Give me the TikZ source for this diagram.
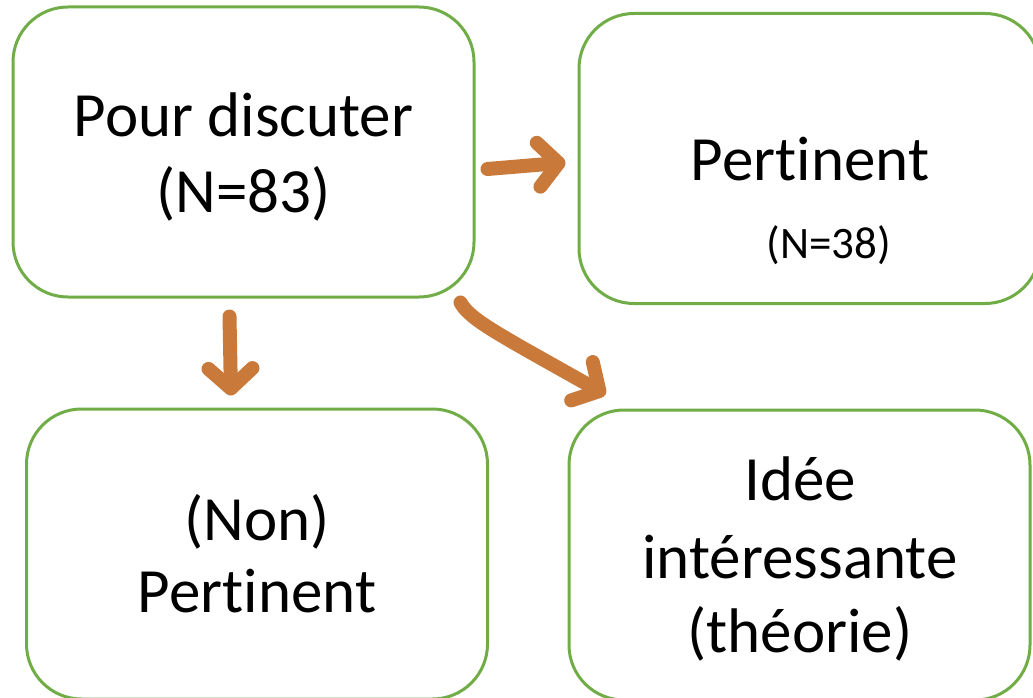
\documentclass[tikz,border=0pt]{standalone}
\usepackage{fontspec}
\setmainfont[Ligatures=NoCommon]{Carlito}
\usetikzlibrary{arrows.meta,calc}
\definecolor{boxgreen}{HTML}{70AD47}
\definecolor{brush}{HTML}{C9793A}
\tikzset{
  box/.style={draw=boxgreen, line width=3pt, rounded corners=55pt, minimum width=461pt, minimum height=290pt, inner sep=0pt},
  big/.style={font=\fontsize{63}{75}\selectfont, align=center, inner sep=0pt},
  small/.style={font=\fontsize{45}{54}\selectfont, inner sep=0pt},
  brusharrow/.style={draw=brush, line width=14pt, line cap=round, line join=round,
    -{Straight Barb[round, length=20pt, width=44pt, line width=14pt]}}
}
\begin{document}
\begin{tikzpicture}[x=1pt,y=-1pt]
\useasboundingbox (0,0) rectangle (1033,698);
\begin{scope}
\clip (0,0) rectangle (1033,698);
\node[box] (a) at (243.5,152) {};
\node[box] (b) at (809.5,158.5) {};
\node[box] (c) at (257,554) {};
\node[box] (d) at (799.5,555) {};
\end{scope}
\node[big, anchor=base] (ta1) at (243.5,137) {Pour discuter};
\node[big, anchor=base] (ta2) at (243.5,212) {(N=83)};
\node[big, anchor=base] (tb1) at (810,180) {Pertinent};
\node[small, anchor=base] (tb2) at (829,258) {(N=38)};
\node[big, anchor=base] (tc1) at (257,540) {(Non)};
\node[big, anchor=base] (tc2) at (257,612) {Pertinent};
\node[big, anchor=base] (td1) at (800,500) {Idée};
\node[big, anchor=base] (td2) at (800,578) {intéressante};
\node[big, anchor=base] (td3) at (800,652) {(théorie)};
\coordinate (e1s) at ($(a.east)+(12,17)$);
\coordinate (e1e) at ($(b.west)+(-12,4)$);
\draw[brusharrow] (e1s) -- (e1e);
\coordinate (e2s) at ($(a.south east)+(-15,4)$);
\coordinate (e2e) at ($(d.north west)+(38,-14)$);
\draw[brusharrow] (e2s) .. controls (470,320) and (500,335) .. (e2e);
\coordinate (e3s) at ($(a.south west)+(218,18)$);
\coordinate (e3e) at ($(c.north west)+(206,-12)$);
\draw[brusharrow] (e3s) -- (e3e);
\end{tikzpicture}
\end{document}
